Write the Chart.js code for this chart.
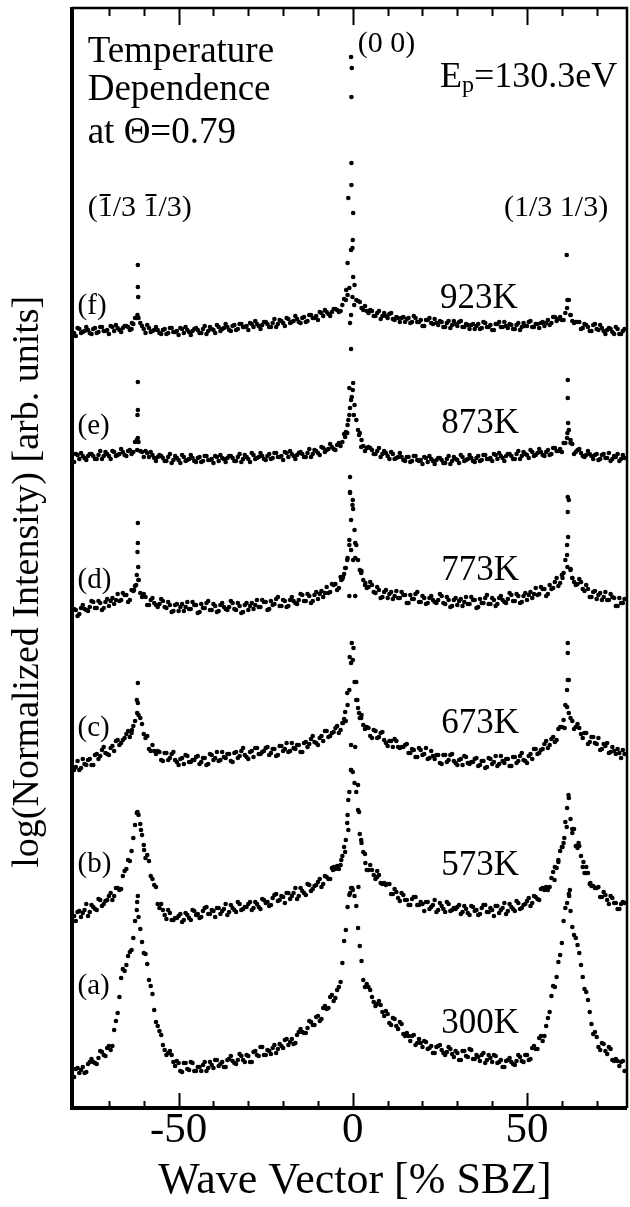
<!DOCTYPE html>
<html>
<head>
<meta charset="utf-8">
<script src="https://cdn.jsdelivr.net/npm/chart.js@4.4.1/dist/chart.umd.min.js"></script>
<style>
  body { margin: 0; background: #fff; }
  canvas { display: block; }
</style>
</head>
<body>
<canvas id="myChart" width="630" height="1207"></canvas>
<script>
// wave vector grid [% SBZ]
const waveVector = [
  -80, -79, -78, -77, -76, -75, -74, -73, -72, -71, -70, -69, -68, -67, -66, -65, -64, -63, -62, -61,
  -60, -59, -58, -57, -56, -55, -54, -53, -52, -51, -50, -49, -48, -47, -46, -45, -44, -43, -42, -41,
  -40, -39, -38, -37, -36, -35, -34, -33, -32, -31, -30, -29, -28, -27, -26, -25, -24, -23, -22, -21,
  -20, -19, -18, -17, -16, -15, -14, -13, -12, -11, -10, -9, -8, -7, -6, -5, -4, -3, -2, -1,
  0, 1, 2, 3, 4, 5, 6, 7, 8, 9, 10, 11, 12, 13, 14, 15, 16, 17, 18, 19,
  20, 21, 22, 23, 24, 25, 26, 27, 28, 29, 30, 31, 32, 33, 34, 35, 36, 37, 38, 39,
  40, 41, 42, 43, 44, 45, 46, 47, 48, 49, 50, 51, 52, 53, 54, 55, 56, 57, 58, 59,
  60, 61, 62, 63, 64, 65, 66, 67, 68, 69, 70, 71, 72, 73, 74, 75, 76, 77, 78
];
// points measured in between
const waveVectorHalf = [
  -79.5, -78.5, -77.5, -76.5, -75.5, -74.5, -73.5, -72.5, -71.5, -70.5, -69.5, -68.5, -67.5, -66.5, -65.5, -64.5, -63.5, -62.5, -61.5, -60.5,
  -59.5, -58.5, -57.5, -56.5, -55.5, -54.5, -53.5, -52.5, -51.5, -50.5, -49.5, -48.5, -47.5, -46.5, -45.5, -44.5, -43.5, -42.5, -41.5, -40.5,
  -39.5, -38.5, -37.5, -36.5, -35.5, -34.5, -33.5, -32.5, -31.5, -30.5, -29.5, -28.5, -27.5, -26.5, -25.5, -24.5, -23.5, -22.5, -21.5, -20.5,
  -19.5, -18.5, -17.5, -16.5, -15.5, -14.5, -13.5, -12.5, -11.5, -10.5, -9.5, -8.5, -7.5, -6.5, -5.5, -4.5, -3.5, -2.5, -1.5, -0.5,
  0.5, 1.5, 2.5, 3.5, 4.5, 5.5, 6.5, 7.5, 8.5, 9.5, 10.5, 11.5, 12.5, 13.5, 14.5, 15.5, 16.5, 17.5, 18.5, 19.5,
  20.5, 21.5, 22.5, 23.5, 24.5, 25.5, 26.5, 27.5, 28.5, 29.5, 30.5, 31.5, 32.5, 33.5, 34.5, 35.5, 36.5, 37.5, 38.5, 39.5,
  40.5, 41.5, 42.5, 43.5, 44.5, 45.5, 46.5, 47.5, 48.5, 49.5, 50.5, 51.5, 52.5, 53.5, 54.5, 55.5, 56.5, 57.5, 58.5, 59.5,
  60.5, 61.5, 62.5, 63.5, 64.5, 65.5, 66.5, 67.5, 68.5, 69.5, 70.5, 71.5, 72.5, 73.5, 74.5, 75.5, 76.5, 77.5
];

// log intensity (offset per temperature) on the grid
const curveA = [
  3.1, 4.0, 3.8, 3.5, 4.4, 4.9, 4.5, 5.0, 5.6, 5.2, 6.2, 6.2, 8.7, 11.1, 13.9, 14.3, 15.6, 17.0, 19.8, 17.9,
  15.5, 14.4, 12.2, 9.8, 8.2, 7.3, 5.8, 5.5, 5.3, 4.2, 4.5, 3.6, 4.5, 3.8, 4.5, 3.7, 4.1, 4.3, 3.7, 4.6,
  4.0, 4.8, 4.4, 4.1, 4.8, 5.2, 4.5, 4.8, 5.2, 4.6, 5.2, 4.6, 5.7, 5.2, 6.1, 5.3, 5.7, 6.0, 5.5, 6.4,
  6.0, 6.9, 6.6, 6.4, 7.3, 7.9, 7.5, 8.0, 8.6, 8.3, 9.2, 8.9, 10.2, 10.0, 11.3, 11.0, 12.1, 14.5, 17.8, 21.3,
  21.8, 20.2, 16.2, 12.8, 12.4, 11.8, 10.6, 10.4, 10.3, 9.2, 9.4, 8.3, 8.9, 7.9, 8.4, 7.2, 7.2, 7.2, 6.3, 6.9,
  6.1, 6.6, 6.0, 5.5, 6.1, 6.3, 5.5, 5.6, 5.9, 5.1, 5.5, 4.8, 5.7, 5.1, 5.8, 4.9, 5.1, 5.3, 4.5, 5.3,
  4.6, 5.2, 4.6, 4.1, 4.7, 5.0, 4.4, 4.7, 5.1, 4.6, 5.3, 4.9, 6.2, 5.9, 7.2, 7.2, 9.0, 11.2, 12.1, 14.6,
  16.5, 20.0, 21.4, 18.1, 17.0, 15.5, 13.1, 11.6, 9.6, 7.4, 7.1, 5.8, 6.4, 5.4, 5.9, 4.7, 4.7, 4.6, 3.7
];
const curveAHalf = [
  3.9, 3.5, 4.1, 3.6, 4.6, 4.6, 4.4, 5.7, 5.3, 6.0, 5.8, 7.8, 9.5, 13.0, 13.7, 15.2, 15.8, 18.7, 19.1, 16.6,
  15.4, 12.8, 11.4, 8.6, 7.7, 6.3, 5.3, 5.7, 4.6, 4.7, 3.7, 4.5, 3.9, 4.6, 3.7, 4.1, 3.7, 4.6, 4.0, 4.3,
  4.8, 4.2, 4.6, 4.1, 4.9, 4.7, 4.4, 5.4, 4.8, 5.3, 4.6, 5.6, 5.3, 6.1, 5.3, 5.8, 5.4, 6.3, 5.9, 6.2,
  6.8, 6.3, 6.9, 6.5, 7.6, 7.6, 7.5, 8.7, 8.3, 9.1, 8.7, 10.0, 9.9, 11.1, 10.7, 11.8, 12.6, 16.7, 20.1, 22.0,
  21.2, 18.0, 14.7, 12.1, 12.1, 11.1, 10.2, 10.7, 9.6, 9.7, 8.5, 9.0, 8.2, 8.6, 7.4, 7.5, 6.7, 7.3, 6.5, 6.5,
  6.7, 5.9, 6.2, 5.5, 6.2, 5.8, 5.3, 6.1, 5.4, 5.7, 4.8, 5.7, 5.2, 5.9, 4.9, 5.3, 4.7, 5.5, 4.8, 5.0,
  5.3, 4.5, 4.8, 4.1, 4.8, 4.6, 4.3, 5.3, 4.7, 5.3, 4.8, 6.0, 5.9, 7.0, 6.7, 8.2, 9.6, 12.2, 13.1, 15.3,
  18.7, 20.5, 19.7, 17.3, 16.3, 14.3, 11.9, 10.8, 8.4, 7.6, 6.1, 6.5, 5.7, 6.1, 4.8, 4.9, 4.2, 4.7
];
const curveB = [
  19.2, 19.6, 19.1, 19.8, 19.2, 20.3, 19.9, 20.9, 20.2, 20.7, 21.2, 20.8, 22.0, 21.8, 23.2, 23.9, 24.7, 27.0, 29.5, 28.4,
  26.3, 25.3, 23.2, 22.3, 20.4, 20.4, 19.3, 19.8, 18.8, 19.0, 19.2, 18.6, 19.5, 19.0, 19.8, 19.3, 19.0, 19.7, 20.1, 19.4,
  19.7, 20.0, 19.4, 19.9, 19.3, 20.3, 19.8, 20.6, 19.8, 20.1, 20.4, 19.8, 20.6, 20.1, 20.9, 20.5, 20.2, 21.0, 21.4, 20.8,
  21.1, 21.5, 20.9, 21.5, 20.9, 22.0, 21.5, 22.4, 21.7, 22.2, 22.6, 22.1, 23.2, 22.9, 24.0, 23.9, 23.9, 25.2, 26.8, 31.6,
  33.6, 31.6, 27.4, 25.6, 23.8, 24.3, 23.3, 23.7, 22.5, 22.5, 22.4, 21.4, 21.9, 21.0, 21.5, 20.8, 20.3, 20.9, 21.1, 20.3,
  20.4, 20.6, 19.9, 20.3, 19.6, 20.5, 19.9, 20.6, 19.7, 20.0, 20.1, 19.4, 20.2, 19.5, 20.2, 19.7, 19.3, 20.0, 20.3, 19.6,
  19.8, 20.2, 19.5, 20.0, 19.4, 20.4, 19.9, 20.7, 19.9, 20.3, 20.7, 20.2, 21.2, 20.9, 21.9, 21.8, 21.8, 23.0, 24.1, 24.6,
  26.1, 28.6, 31.0, 27.9, 26.2, 26.2, 24.1, 24.1, 22.4, 22.2, 22.0, 21.1, 21.6, 20.8, 21.2, 20.5, 19.9, 20.4, 20.5
];
const curveBHalf = [
  18.7, 19.7, 19.5, 20.4, 19.6, 20.1, 19.8, 20.8, 20.4, 20.8, 21.5, 21.2, 22.0, 21.9, 23.7, 24.8, 25.7, 28.3, 29.3, 27.3,
  25.0, 24.7, 22.9, 22.1, 20.0, 19.8, 18.9, 19.5, 18.8, 19.0, 19.4, 18.8, 19.3, 18.8, 19.7, 19.4, 19.1, 20.0, 19.4, 19.8,
  19.1, 20.0, 19.7, 20.4, 19.6, 20.0, 19.6, 20.4, 19.9, 20.1, 20.6, 20.0, 20.4, 19.9, 20.8, 20.6, 20.3, 21.3, 20.7, 21.2,
  20.5, 21.5, 21.2, 22.0, 21.2, 21.7, 21.3, 22.3, 21.9, 22.3, 22.9, 22.4, 23.1, 22.9, 24.1, 24.2, 24.3, 26.1, 29.3, 33.8,
  32.5, 29.8, 26.5, 25.4, 23.8, 23.8, 22.9, 23.3, 22.4, 22.3, 22.4, 21.4, 21.6, 20.7, 21.3, 20.8, 20.3, 21.1, 20.3, 20.6,
  19.7, 20.6, 20.1, 20.8, 19.8, 20.2, 19.6, 20.4, 19.8, 19.9, 20.3, 19.6, 19.9, 19.3, 20.1, 19.8, 19.4, 20.3, 19.6, 20.0,
  19.2, 20.2, 19.8, 20.5, 19.7, 20.1, 19.7, 20.5, 20.0, 20.4, 21.0, 20.5, 21.1, 20.8, 22.0, 22.1, 22.1, 23.6, 24.0, 25.7,
  26.5, 30.0, 28.9, 27.9, 26.0, 25.2, 23.5, 23.5, 22.2, 22.0, 22.1, 21.1, 21.3, 20.4, 21.0, 20.5, 19.9, 20.6
];
const curveC = [
  33.8, 34.7, 34.0, 34.4, 34.8, 34.3, 35.3, 34.9, 35.8, 35.5, 35.3, 36.2, 36.7, 36.3, 36.8, 37.4, 37.1, 38.2, 40.8, 39.0,
  37.4, 37.2, 35.7, 35.7, 35.7, 34.8, 35.5, 34.8, 35.4, 34.8, 34.3, 35.0, 35.3, 34.6, 34.8, 35.1, 34.4, 35.0, 34.3, 35.4,
  34.8, 35.6, 34.8, 35.1, 35.4, 34.7, 35.5, 35.0, 35.7, 35.3, 34.9, 35.7, 36.0, 35.4, 35.6, 36.0, 35.3, 35.9, 35.2, 36.2,
  35.7, 36.5, 35.7, 36.0, 36.3, 35.6, 36.5, 36.1, 36.9, 36.6, 36.3, 37.2, 37.7, 37.1, 37.5, 38.0, 37.5, 38.5, 38.7, 41.8,
  44.8, 40.8, 39.0, 38.3, 38.1, 37.2, 37.8, 37.0, 37.5, 36.8, 36.2, 36.7, 36.9, 36.1, 36.1, 36.3, 35.5, 35.9, 35.1, 36.0,
  35.3, 36.0, 35.0, 35.2, 35.3, 34.5, 35.3, 34.6, 35.3, 34.7, 34.3, 34.9, 35.2, 34.5, 34.6, 34.9, 34.2, 34.7, 34.0, 35.0,
  34.4, 35.2, 34.4, 34.7, 34.9, 34.2, 35.1, 34.5, 35.2, 34.8, 34.5, 35.4, 35.9, 35.4, 35.8, 36.4, 36.0, 36.9, 36.6, 37.9,
  38.1, 40.3, 42.8, 38.7, 38.1, 38.0, 37.0, 37.5, 36.6, 37.1, 36.4, 35.8, 36.4, 36.5, 35.6, 35.7, 35.9, 35.0, 35.4
];
const curveCHalf = [
  34.1, 33.8, 34.9, 34.3, 34.9, 34.3, 35.4, 35.2, 36.1, 35.4, 36.0, 35.7, 36.8, 36.5, 37.0, 37.7, 37.5, 38.7, 39.3, 38.4,
  37.0, 35.9, 36.3, 35.4, 35.6, 34.7, 35.5, 35.0, 35.6, 34.6, 34.9, 34.4, 35.2, 34.6, 34.8, 35.2, 34.6, 35.0, 34.4, 35.3,
  35.0, 34.7, 35.6, 35.0, 35.4, 34.6, 35.6, 35.2, 36.0, 35.1, 35.6, 35.1, 36.0, 35.4, 35.7, 36.1, 35.5, 35.9, 35.3, 36.2,
  35.9, 35.6, 36.5, 35.9, 36.3, 35.6, 36.6, 36.4, 37.2, 36.5, 37.0, 36.7, 37.7, 37.2, 37.6, 38.2, 37.8, 38.9, 40.3, 44.5,
  42.6, 40.0, 39.3, 37.9, 38.0, 37.0, 37.7, 37.1, 37.6, 36.5, 36.7, 36.1, 36.7, 36.0, 36.1, 36.4, 35.5, 35.8, 35.1, 35.8,
  35.4, 34.9, 35.7, 34.9, 35.3, 34.4, 35.3, 34.8, 35.4, 34.5, 34.8, 34.3, 35.1, 34.4, 34.6, 35.0, 34.3, 34.7, 34.1, 34.9,
  34.6, 34.2, 35.2, 34.5, 34.9, 34.2, 35.1, 34.7, 35.5, 34.7, 35.2, 34.9, 35.9, 35.5, 35.9, 36.7, 36.3, 37.1, 36.8, 38.1,
  38.8, 41.8, 39.0, 37.9, 38.4, 37.4, 37.5, 36.4, 37.1, 36.5, 37.0, 35.9, 36.2, 35.5, 36.1, 35.4, 35.5, 35.8
];
const curveD = [
  49.9, 49.2, 50.0, 49.9, 49.7, 50.7, 50.0, 50.7, 49.8, 50.6, 50.2, 51.0, 50.8, 50.7, 51.5, 51.3, 50.8, 51.7, 53.3, 51.5,
  51.4, 50.3, 50.8, 50.5, 50.1, 50.9, 50.1, 50.6, 49.6, 50.3, 49.7, 50.4, 50.1, 49.9, 50.6, 50.3, 49.6, 50.0, 50.5, 49.8,
  50.4, 49.6, 50.3, 50.1, 49.8, 50.7, 49.9, 50.5, 49.5, 50.3, 49.8, 50.5, 50.3, 50.1, 50.8, 50.6, 49.9, 50.3, 50.9, 50.2,
  50.8, 50.1, 50.8, 50.7, 50.4, 51.4, 50.7, 51.4, 50.5, 51.3, 50.9, 51.7, 51.5, 51.5, 52.4, 52.4, 52.0, 52.9, 54.0, 56.3,
  60.8, 56.3, 53.8, 52.8, 52.0, 52.6, 51.6, 52.1, 51.0, 51.6, 51.0, 51.6, 51.2, 51.0, 51.6, 51.3, 50.5, 50.9, 51.4, 50.6,
  51.2, 50.4, 51.0, 50.8, 50.5, 51.4, 50.5, 51.1, 50.1, 50.8, 50.3, 50.9, 50.6, 50.4, 51.1, 50.8, 50.1, 50.5, 51.0, 50.4,
  51.0, 50.2, 51.0, 50.8, 50.5, 51.5, 50.7, 51.4, 50.5, 51.2, 50.8, 51.6, 51.4, 51.3, 52.1, 51.9, 51.4, 51.9, 52.6, 52.2,
  53.3, 54.8, 60.8, 53.0, 52.3, 52.9, 51.9, 52.3, 51.1, 51.6, 50.9, 51.5, 51.1, 50.8, 51.4, 51.0, 50.2, 50.5, 50.9
];
const curveDHalf = [
  49.8, 49.4, 50.3, 49.8, 50.1, 50.6, 50.0, 50.5, 50.0, 50.9, 50.7, 50.4, 51.4, 50.8, 51.3, 50.6, 51.8, 52.2, 52.8, 51.1,
  51.1, 50.3, 51.0, 50.3, 50.4, 50.7, 50.0, 50.3, 49.7, 50.4, 50.1, 49.7, 50.6, 49.9, 50.3, 49.5, 50.4, 50.0, 50.7, 49.8,
  50.2, 49.7, 50.5, 49.9, 50.1, 50.5, 49.8, 50.2, 49.6, 50.5, 50.2, 49.9, 50.8, 50.1, 50.6, 49.8, 50.7, 50.4, 51.1, 50.2,
  50.7, 50.2, 51.1, 50.5, 50.8, 51.3, 50.7, 51.2, 50.7, 51.6, 51.4, 51.1, 52.1, 51.6, 52.3, 51.8, 53.1, 53.4, 55.0, 58.8,
  57.8, 54.8, 53.7, 52.3, 52.1, 52.3, 51.5, 51.8, 51.1, 51.8, 51.4, 50.9, 51.7, 51.0, 51.3, 50.5, 51.3, 50.9, 51.6, 50.6,
  51.0, 50.5, 51.2, 50.6, 50.8, 51.2, 50.4, 50.8, 50.2, 51.0, 50.7, 50.2, 51.1, 50.4, 50.8, 50.0, 50.9, 50.5, 51.3, 50.4,
  50.8, 50.4, 51.2, 50.6, 50.9, 51.3, 50.7, 51.2, 50.6, 51.5, 51.3, 51.0, 52.0, 51.4, 51.9, 51.2, 52.3, 52.0, 53.0, 52.5,
  53.5, 56.3, 53.8, 52.6, 52.4, 52.6, 51.7, 51.9, 51.1, 51.7, 51.3, 50.8, 51.6, 50.8, 51.1, 50.2, 51.0, 50.5
];
const curveE = [
  64.6, 65.3, 65.5, 65.0, 65.2, 65.4, 64.9, 65.3, 64.9, 65.6, 65.2, 65.7, 65.2, 65.4, 65.6, 65.2, 65.8, 65.6, 66.8, 65.7,
  65.1, 65.5, 65.6, 65.0, 65.1, 65.2, 64.7, 65.1, 64.5, 65.2, 64.8, 65.3, 64.7, 64.9, 65.0, 64.6, 65.1, 64.7, 65.2, 64.8,
  64.5, 65.1, 65.3, 64.9, 65.0, 65.2, 64.7, 65.1, 64.6, 65.3, 64.9, 65.5, 64.9, 65.1, 65.2, 64.8, 65.4, 65.0, 65.5, 65.1,
  64.8, 65.5, 65.7, 65.2, 65.3, 65.6, 65.1, 65.5, 65.1, 65.8, 65.5, 66.1, 65.6, 65.9, 66.1, 65.8, 66.5, 66.6, 67.6, 69.3,
  71.8, 68.8, 67.5, 66.2, 66.0, 66.0, 65.4, 65.7, 65.1, 65.7, 65.2, 65.6, 64.9, 65.1, 65.1, 64.7, 65.1, 64.7, 65.2, 64.7,
  64.4, 65.0, 65.2, 64.7, 64.8, 65.0, 64.5, 64.9, 64.4, 65.1, 64.8, 65.3, 64.7, 64.9, 65.0, 64.6, 65.2, 64.8, 65.3, 64.9,
  64.7, 65.3, 65.5, 65.0, 65.2, 65.4, 64.9, 65.4, 64.9, 65.6, 65.3, 65.8, 65.2, 65.5, 65.6, 65.2, 65.8, 65.4, 66.0, 65.7,
  65.6, 66.5, 67.8, 66.4, 65.6, 65.9, 65.2, 65.3, 65.4, 64.9, 65.4, 64.9, 65.4, 65.0, 64.7, 65.2, 65.4, 64.9, 65.0
];
const curveEHalf = [
  65.4, 64.9, 65.2, 64.8, 65.4, 65.2, 64.9, 65.7, 65.2, 65.4, 64.9, 65.6, 65.3, 65.9, 65.3, 65.7, 65.4, 66.6, 66.6, 65.6,
  65.7, 65.1, 65.3, 64.7, 65.3, 65.0, 64.7, 65.4, 64.8, 65.0, 64.5, 65.1, 64.8, 65.3, 64.7, 65.0, 64.6, 65.2, 64.8, 64.9,
  65.2, 64.7, 65.0, 64.6, 65.2, 65.0, 64.7, 65.4, 64.9, 65.1, 64.6, 65.3, 65.0, 65.5, 64.9, 65.2, 64.9, 65.5, 65.1, 65.2,
  65.6, 65.1, 65.4, 64.9, 65.5, 65.4, 65.1, 65.9, 65.4, 65.7, 65.3, 66.0, 65.8, 66.4, 65.9, 66.3, 66.2, 67.4, 68.3, 70.8,
  70.3, 67.8, 66.8, 65.7, 66.1, 65.8, 65.4, 66.0, 65.4, 65.5, 64.9, 65.4, 65.0, 65.5, 64.8, 65.1, 64.6, 65.2, 64.8, 64.8,
  65.1, 64.6, 64.9, 64.4, 65.0, 64.8, 64.5, 65.2, 64.7, 64.9, 64.5, 65.1, 64.8, 65.3, 64.7, 65.0, 64.7, 65.3, 64.9, 65.0,
  65.4, 64.9, 65.2, 64.7, 65.4, 65.2, 64.9, 65.7, 65.2, 65.4, 65.0, 65.6, 65.3, 65.9, 65.3, 65.6, 65.3, 66.0, 65.7, 65.9,
  66.5, 67.0, 66.8, 65.4, 65.8, 65.5, 65.1, 65.7, 65.2, 65.3, 64.8, 65.3, 65.0, 65.5, 64.9, 65.1, 64.7, 65.3
];
const curveF = [
  77.5, 78.0, 77.5, 77.7, 77.8, 77.4, 78.0, 77.6, 78.1, 77.7, 77.4, 78.1, 78.3, 77.8, 78.0, 78.2, 77.8, 78.4, 79.0, 78.5,
  77.9, 78.3, 77.6, 77.8, 77.8, 77.4, 77.9, 77.5, 78.0, 77.6, 77.3, 77.9, 78.1, 77.6, 77.7, 78.0, 77.5, 77.9, 77.4, 78.1,
  77.8, 78.3, 77.7, 78.0, 78.1, 77.7, 78.3, 77.9, 78.4, 78.1, 77.8, 78.4, 78.7, 78.2, 78.3, 78.6, 78.1, 78.5, 78.1, 78.8,
  78.5, 79.0, 78.5, 78.7, 78.9, 78.5, 79.1, 78.7, 79.3, 79.0, 78.8, 79.5, 79.8, 79.4, 79.6, 79.9, 79.6, 80.3, 80.8, 82.0,
  86.8, 80.8, 80.6, 79.8, 79.7, 79.8, 79.2, 79.5, 78.9, 79.5, 79.0, 79.5, 78.8, 79.0, 79.0, 78.6, 79.0, 78.6, 79.0, 78.6,
  78.2, 78.8, 79.0, 78.4, 78.5, 78.7, 78.1, 78.5, 78.0, 78.7, 78.2, 78.7, 78.1, 78.3, 78.3, 77.9, 78.4, 78.0, 78.5, 78.1,
  77.8, 78.4, 78.6, 78.1, 78.2, 78.4, 77.9, 78.3, 77.8, 78.5, 78.2, 78.7, 78.1, 78.4, 78.5, 78.2, 78.8, 78.5, 79.1, 78.9,
  78.8, 79.5, 80.8, 78.7, 78.6, 78.6, 78.0, 78.3, 77.7, 78.3, 77.9, 78.3, 77.7, 77.8, 77.9, 77.4, 77.9, 77.4, 77.9
];
const curveFHalf = [
  77.2, 77.9, 77.6, 78.1, 77.5, 77.9, 77.5, 78.1, 77.7, 77.8, 78.2, 77.7, 78.0, 77.6, 78.2, 78.1, 77.9, 79.0, 79.0, 78.2,
  77.5, 78.0, 77.7, 78.1, 77.5, 77.8, 77.4, 78.0, 77.6, 77.7, 78.0, 77.5, 77.8, 77.3, 77.9, 77.8, 77.5, 78.2, 77.7, 77.9,
  77.5, 78.1, 77.9, 78.4, 77.8, 78.2, 77.8, 78.4, 78.1, 78.2, 78.5, 78.1, 78.4, 77.9, 78.6, 78.4, 78.1, 78.9, 78.4, 78.7,
  78.2, 78.9, 78.6, 79.2, 78.6, 79.0, 78.6, 79.3, 79.0, 79.2, 79.6, 79.2, 79.6, 79.2, 79.9, 79.8, 79.7, 80.9, 81.3, 85.8,
  82.3, 80.7, 80.0, 80.2, 79.5, 79.7, 79.2, 79.7, 79.2, 79.2, 79.4, 78.9, 79.1, 78.6, 79.1, 78.9, 78.5, 79.2, 78.6, 78.8,
  78.2, 78.8, 78.5, 78.9, 78.3, 78.6, 78.1, 78.7, 78.3, 78.4, 78.6, 78.1, 78.4, 77.9, 78.4, 78.2, 77.9, 78.6, 78.1, 78.3,
  77.8, 78.4, 78.1, 78.6, 78.0, 78.3, 77.9, 78.5, 78.1, 78.2, 78.6, 78.1, 78.4, 78.0, 78.6, 78.5, 78.3, 79.1, 78.7, 79.1,
  78.8, 80.0, 79.3, 78.5, 78.6, 77.9, 78.4, 78.1, 77.7, 78.4, 77.8, 78.0, 77.4, 78.0, 77.6, 78.1, 77.4, 77.7
];

// extra points measured on the peaks (x, y)
const peakAx = [-61.9, -61.7, -0.8, -0.2, 62.1, 62.3];
const peakAy = [20.6, 21.2, 21.5, 22.0, 21.2, 21.8];
const peakBx = [-61.8, -60.8, -59.9, -5.7, -3.3, -2.2, -1.6, -1.3, -1.3, -0.5, 1.5, 1.8, 2.4, 3.6, 7, 1.6,
  57.9, 59, 60.2, 60.7, 61.4, 61.9, 63, 64.8, 66.2, 67, 68.2];
const peakBy = [29.6, 27.8, 25.8, 23.8, 24.8, 25.6, 28.5, 30.8, 27.8, 33.8, 32.3, 29.6, 26.8, 24.5, 23.1, 22.1,
  22.8, 24.8, 26.1, 27.0, 28.1, 31.3, 27.5, 26.5, 24.6, 23.5, 22.5];
const peakCx = [-63.4, -61.9, -61.7, -61.7, -2.8, -2.2, -1.6, -0.9, -0.3, 0.2, 1, 1.3, 1.8, 2.4, -0.5, 0.7,
  60.8, 61.5, 61.7, 61.7, 61.7, 62];
const peakCy = [37.8, 39.5, 42.5, 40.5, 38.5, 39.6, 41.5, 45.1, 46.5, 46.0, 42.6, 40.8, 39.5, 39.0, 36.3, 36.1,
  38.0, 40.1, 46.5, 45.5, 42.8, 39.5];
const peakDx = [-62.8, -62.2, -61.8, -61.7, -61.7, -61.6, -61.5,
  -3.3, -2.8, -2.2, -1.6, -1, -1, -0.8, -0.8, -0.8, -0.5, -0.1, 0.1, 0.1, 0.7, 0.7, 0.7, 2.4, 3.6,
  60.2, 61.5, 61.6, 61.7, 61.7, 61.8, 62.5, 63];
const peakDy = [51.8, 52.3, 55.6, 58.5, 56.5, 54.1, 52.8,
  52.8, 53.1, 54.0, 54.8, 56.8, 51.2, 63.1, 61.6, 61.5, 55.8, 60.3, 59.9, 54.8, 56.5, 55.0, 51.2, 53.5, 52.5,
  53.0, 55.3, 54.1, 61.1, 59.6, 57.1, 53.9, 53.0];
const peakEx = [-61.9, -61.8, -61.7, -61.7, -61.7,
  -2.2, -1.6, -1.3, -1, -0.8, -0.5, -0.3, 0.1, 0.3, 1.8, 2.4,
  61.6, 61.7, 61.7, 61.8, 62.5];
const peakEy = [65.8, 69.3, 72.6, 69.8, 67.0,
  67.1, 67.5, 68.8, 72.0, 70.0, 75.9, 71.1, 72.5, 69.3, 67.3, 66.1,
  67.5, 72.8, 71.0, 68.5, 66.5];
const peakFx = [-63.4, -61.8, -61.7, -61.7, -61.6,
  -1.9, -1.5, -1.3, -0.8, -0.5, -0.5, -0.4, -0.4, -0.4, -0.3, -0.1, -0.1, 0.1, 0.1, 0.4,
  61.4, 61.6, 62.5];
const peakFy = [78.5, 79.3, 84.3, 82.1, 81.1,
  81.8, 84.5, 91.0, 78.5, 105.1, 79.3, 101.1, 94.5, 92.3, 104.0, 86.0, 81.1, 89.5, 83.1, 80.3,
  85.3, 80.8, 79.3];

const xTickValues = [-50, 0, 50];
const minorTickValues = [-70, -60, -50, -40, -30, -20, -10, 0, 10, 20, 30, 40, 50, 60, 70];

const serif = '"Liberation Serif"';

const toPoints = (xs, ys) => xs.map((v, i) => ({ x: v, y: ys[i] }));
const series = (ys, halfYs, px, py) => ({
  data: toPoints(waveVector, ys).concat(toPoints(waveVectorHalf, halfYs), toPoints(px, py)),
  backgroundColor: "#000",
  borderWidth: 0,
  pointRadius: 2.3,
  pointHoverRadius: 2.3,
});

// text placed in data coordinates
const notes = [
  { text: "Temperature", x: -76.1, y: 104.6, size: 37 },
  { text: "Dependence", x: -76.1, y: 100.8, size: 37 },
  { text: "at \u0398=0.79", x: -76.1, y: 96.5, size: 37 },
  { text: "(0 0)", x: 1.4, y: 105.6, size: 30 },
  { text: "(1/3 1/3)", x: 43.4, y: 89.2, size: 30 },
  { text: "(f)", x: -79.0, y: 79.4, size: 29 },
  { text: "(e)", x: -79.0, y: 67.4, size: 29 },
  { text: "(d)", x: -79.0, y: 52.0, size: 29 },
  { text: "(c)", x: -79.0, y: 37.2, size: 29 },
  { text: "(b)", x: -79.0, y: 23.6, size: 29 },
  { text: "(a)", x: -79.0, y: 11.4, size: 29 },
  { text: "923K", x: 25.0, y: 80.0, size: 35 },
  { text: "873K", x: 25.4, y: 67.5, size: 35 },
  { text: "773K", x: 25.4, y: 52.8, size: 35 },
  { text: "673K", x: 25.4, y: 37.5, size: 35 },
  { text: "573K", x: 25.4, y: 23.3, size: 35 },
  { text: "300K", x: 25.4, y: 7.5, size: 35 },
];

const frame = {
  id: "frame",
  afterDraw(chart) {
    const { ctx, chartArea: a, scales } = chart;
    const xs = scales.x;
    const ys = scales.y;
    ctx.save();
    ctx.strokeStyle = "#000";
    ctx.lineWidth = 2.5;
    ctx.beginPath();
    ctx.moveTo(a.left, a.top);
    ctx.lineTo(a.right, a.top);
    ctx.lineTo(a.right, a.bottom);
    ctx.stroke();
    ctx.lineWidth = 4;
    ctx.beginPath();
    ctx.moveTo(a.left, a.top - 1);
    ctx.lineTo(a.left, a.bottom);
    ctx.lineTo(a.right, a.bottom);
    ctx.stroke();

    // inward ticks on top and bottom
    ctx.lineWidth = 2;
    minorTickValues.forEach((v) => {
      const px = Math.round(xs.getPixelForValue(v)) + 0.5;
      const bottomLen = xTickValues.includes(v) ? 15 : 7;
      const topLen = xTickValues.includes(v) ? 17 : 8;
      ctx.beginPath();
      ctx.moveTo(px, a.bottom);
      ctx.lineTo(px, a.bottom - bottomLen);
      ctx.moveTo(px, a.top);
      ctx.lineTo(px, a.top + topLen);
      ctx.stroke();
    });

    ctx.fillStyle = "#000";
    ctx.textBaseline = "alphabetic";
    ctx.textAlign = "left";
    notes.forEach((n) => {
      ctx.font = n.size + "px " + serif;
      ctx.fillText(n.text, xs.getPixelForValue(n.x), ys.getPixelForValue(n.y));
    });

    // (1/3 1/3) with bars over the ones
    const bx = xs.getPixelForValue(-76.1);
    const by = ys.getPixelForValue(89.2);
    const barText = "(1/3 1/3)";
    ctx.font = "30px " + serif;
    ctx.fillText(barText, bx, by);
    ctx.lineWidth = 2;
    [1, 5].forEach((k) => {
      const x0 = bx + ctx.measureText(barText.slice(0, k)).width;
      const x1 = bx + ctx.measureText(barText.slice(0, k + 1)).width;
      ctx.beginPath();
      ctx.moveTo(x0 + 2, by - 21);
      ctx.lineTo(x1 - 2, by - 21);
      ctx.stroke();
    });

    // E_p = 130.3 eV
    const ex = xs.getPixelForValue(25.0);
    const ey = ys.getPixelForValue(102.1);
    ctx.font = "36px " + serif;
    ctx.fillText("E", ex, ey);
    let w = ctx.measureText("E").width;
    ctx.font = "24px " + serif;
    ctx.fillText("p", ex + w, ey + 5);
    w += ctx.measureText("p").width;
    ctx.font = "36px " + serif;
    ctx.fillText("=130.3eV", ex + w, ey);
    ctx.restore();
  },
};

new Chart(document.getElementById("myChart"), {
  type: "scatter",
  data: {
    datasets: [
      series(curveA, curveAHalf, peakAx, peakAy),
      series(curveB, curveBHalf, peakBx, peakBy),
      series(curveC, curveCHalf, peakCx, peakCy),
      series(curveD, curveDHalf, peakDx, peakDy),
      series(curveE, curveEHalf, peakEx, peakEy),
      series(curveF, curveFHalf, peakFx, peakFy),
    ],
  },
  options: {
    responsive: false,
    animation: false,
    devicePixelRatio: 1,
    layout: { padding: { top: 8, right: 3, left: 0, bottom: 0 } },
    plugins: { legend: { display: false }, tooltip: { enabled: false } },
    scales: {
      x: {
        type: "linear",
        min: -80.6,
        max: 78.7,
        afterFit: (s) => { s.height = 99; },
        afterBuildTicks: (s) => { s.ticks = xTickValues.map((v) => ({ value: v })); },
        grid: { display: false, drawTicks: false },
        border: { display: false },
        ticks: {
          color: "#000",
          padding: 1,
          font: { family: serif, size: 43, lineHeight: 1 },
          callback: (v) => String(v),
        },
        title: {
          display: true,
          text: " Wave Vector [% SBZ]",
          color: "#000",
          padding: { top: 0, bottom: 4 },
          font: { family: serif, size: 44, lineHeight: 1 },
        },
      },
      y: {
        type: "linear",
        min: 0,
        max: 110,
        afterFit: (s) => { s.width = 72; },
        grid: { display: false, drawTicks: false },
        border: { display: false },
        ticks: { display: false },
        title: {
          display: true,
          text: "log(Normalized Intensity) [arb. units]     ",
          color: "#000",
          padding: { top: 5, bottom: 0 },
          font: { family: serif, size: 38, lineHeight: 1.2 },
        },
      },
    },
  },
  plugins: [frame],
});
</script>
</body>
</html>
